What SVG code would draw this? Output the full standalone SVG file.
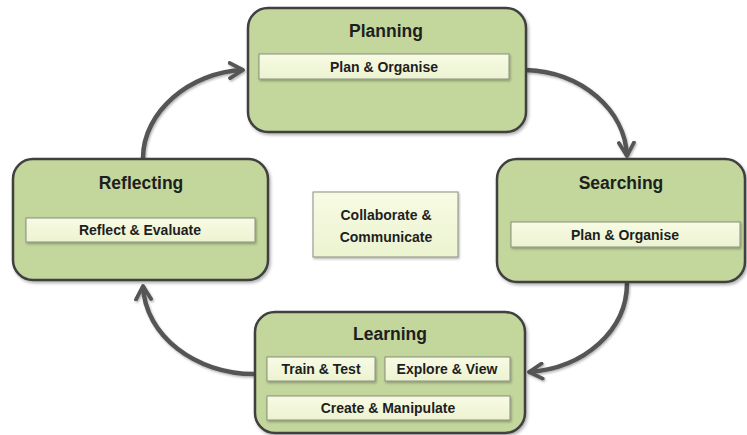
<svg xmlns="http://www.w3.org/2000/svg" width="747" height="435" viewBox="0 0 747 435">
<style>
.box{fill:#c3d69b;stroke:#3f3f3f;stroke-width:2.5;filter:url(#sh)}
.bar{fill:url(#barg);stroke:#8a8f80;stroke-width:1;filter:url(#sh2)}
.title{font-family:"Liberation Sans",Arial,sans-serif;font-weight:bold;font-size:17.5px;fill:#1e1e1e;text-anchor:middle}
.lbl{font-family:"Liberation Sans",Arial,sans-serif;font-weight:bold;font-size:14px;fill:#1e1e1e;text-anchor:middle}
.arr{fill:none;stroke:#555;stroke-width:4.5;marker-end:url(#ah);filter:url(#sh2)}
</style>
<defs>
<linearGradient id="barg" x1="0" y1="0" x2="0" y2="1">
<stop offset="0" stop-color="#f7fbe4"/>
<stop offset="1" stop-color="#ecf3d0"/>
</linearGradient>
<filter id="sh" x="-10%" y="-10%" width="120%" height="130%">
<feDropShadow dx="1.5" dy="2" stdDeviation="1.5" flood-color="#000" flood-opacity="0.3"/>
</filter>
<filter id="sh2" x="-10%" y="-20%" width="120%" height="150%">
<feDropShadow dx="1" dy="1.5" stdDeviation="1" flood-color="#000" flood-opacity="0.3"/>
</filter>
<marker id="ah" viewBox="0 0 10 10" refX="8" refY="5" markerWidth="4.2" markerHeight="4.2" orient="auto" markerUnits="strokeWidth">
<path d="M1,1 L8,5 L1,9" fill="none" stroke="#555" stroke-width="2" stroke-linecap="round" stroke-linejoin="round"/>
</marker>
</defs>
<g id="connectors">
<path class="arr" d="M143,158 C143,112 190,72 243,70"/>
<path class="arr" d="M526,70 C582,72 625,110 627,156"/>
<path class="arr" d="M627,283 C627,330 585,368 529,372"/>
<path class="arr" d="M254,374 C196,374 145,336 143,286"/>
</g>
<g id="planning">
<rect class="box" x="248" y="8" width="278" height="124" rx="20"/>
<text class="title" x="386" y="37">Planning</text>
<rect class="bar" x="259" y="54" width="250" height="25"/>
<text class="lbl" x="384" y="72">Plan &amp; Organise</text>
</g>
<g id="reflecting">
<rect class="box" x="13" y="159" width="255" height="121" rx="20"/>
<text class="title" x="141" y="189">Reflecting</text>
<rect class="bar" x="26" y="218" width="229" height="24"/>
<text class="lbl" x="140" y="235">Reflect &amp; Evaluate</text>
</g>
<g id="searching">
<rect class="box" x="497" y="159" width="248" height="123" rx="20"/>
<text class="title" x="621" y="189">Searching</text>
<rect class="bar" x="511" y="222" width="229" height="25"/>
<text class="lbl" x="625" y="240">Plan &amp; Organise</text>
</g>
<g id="learning">
<rect class="box" x="255" y="312" width="270" height="121" rx="20"/>
<text class="title" x="390" y="340">Learning</text>
<rect class="bar" x="267" y="357" width="108" height="24"/>
<text class="lbl" x="321" y="374">Train &amp; Test</text>
<rect class="bar" x="385" y="357" width="125" height="24"/>
<text class="lbl" x="447" y="374">Explore &amp; View</text>
<rect class="bar" x="267" y="396" width="243" height="24"/>
<text class="lbl" x="388" y="413">Create &amp; Manipulate</text>
</g>
<g id="collaborate">
<rect class="bar" x="313" y="192" width="145" height="65"/>
<text class="lbl" x="386" y="220">Collaborate &amp;</text>
<text class="lbl" x="386" y="242">Communicate</text>
</g>
</svg>
